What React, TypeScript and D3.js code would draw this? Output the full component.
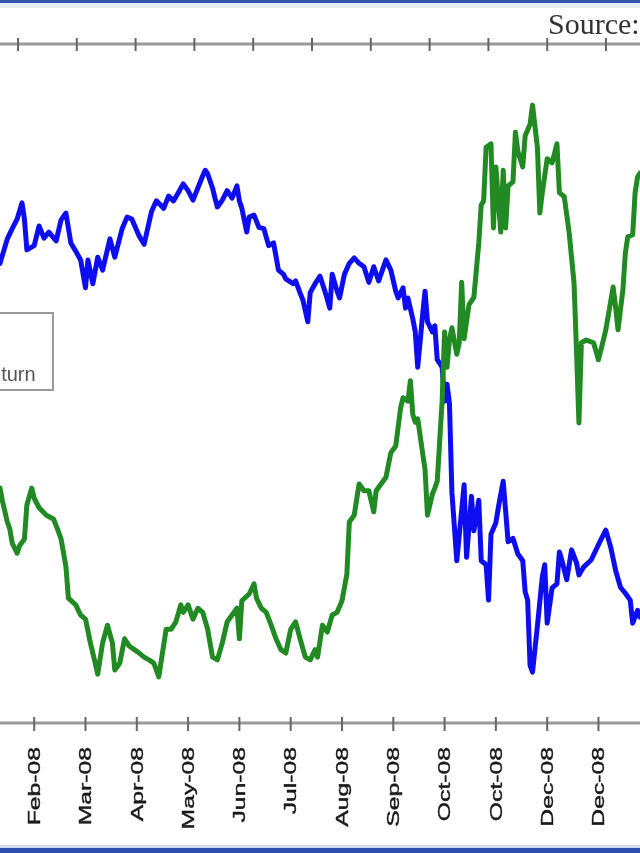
import { useEffect, useRef } from 'react'
import * as d3 from 'd3'

const width = 640
const height = 853

// [trading day, level]; y has no printed scale, 0-100 of the plot height
const indexSeries: [number, number][] = [
  [0, 67.7], [3, 71.3], [5, 72.8], [7, 74.2], [9, 76.6], [10, 74.2], [11, 69.7], [14, 70.3],
  [16, 73.2], [18, 71.4], [20, 72.3], [23, 71.0], [25, 74.1], [27, 75.1], [29, 70.7], [31, 69.5],
  [33, 68.2], [35, 64.1], [36, 68.2], [38, 64.7], [40, 68.6], [42, 66.7], [45, 71.3], [47, 68.6],
  [50, 72.8], [52, 74.5], [54, 74.2], [57, 71.7], [59, 70.5], [62, 75.3], [64, 76.9], [67, 75.8],
  [69, 77.6], [71, 76.9], [73, 78.1], [75, 79.4], [77, 78.4], [79, 77.0], [81, 78.8], [83, 80.6],
  [84, 81.4], [85, 80.9], [87, 78.8], [88, 77.3], [89, 76.0], [91, 77.0], [93, 78.4], [95, 77.3],
  [97, 79.1], [98, 76.9], [99, 75.8], [101, 72.3], [102, 74.5], [104, 74.8], [106, 73.0], [108, 72.8],
  [110, 70.3], [112, 70.7], [114, 66.7], [116, 66.1], [117, 65.4], [120, 64.7], [121, 65.1], [123, 63.2],
  [124, 62.3], [126, 59.1], [127, 63.4], [129, 64.7], [131, 65.8], [133, 63.6], [135, 61.1], [136, 66.1],
  [138, 63.6], [139, 62.6], [141, 66.1], [143, 67.7], [145, 68.5], [147, 67.7], [149, 67.2], [151, 64.9],
  [153, 67.2], [155, 65.1], [158, 68.2], [160, 66.7], [162, 63.6], [163, 62.6], [165, 64.1], [166, 61.1],
  [167, 62.6], [169, 59.5], [170, 57.6], [171, 52.4], [173, 60.1], [174, 63.6], [175, 59.1], [177, 57.6],
  [178, 58.5], [179, 53.5], [181, 52.4], [182, 47.4], [183, 49.9], [184, 47.0], [185, 34.0], [187, 23.9],
  [190, 35.1], [191, 24.4], [193, 33.4], [194, 28.3], [196, 32.8], [197, 23.9], [199, 23.3], [200, 18.1],
  [201, 27.8], [203, 29.5], [204, 31.7], [206, 35.6], [207, 31.2], [208, 26.7], [210, 27.2], [212, 24.9],
  [214, 23.9], [215, 19.3], [216, 18.1], [217, 8.5], [218, 7.5], [220, 14.3], [222, 21.5], [223, 23.3],
  [224, 14.7], [226, 19.9], [228, 20.5], [229, 25.2], [230, 24.0], [232, 21.1], [234, 25.5], [236, 23.6],
  [237, 21.8], [239, 23.0], [242, 24.0], [246, 27.0], [248, 28.4], [250, 25.9], [252, 22.5], [254, 20.0],
  [256, 19.1], [258, 18.1], [259, 14.7], [261, 16.6], [262, 15.6],
]

const returnSeries: [number, number][] = [
  [0, 34.6], [1, 32.7], [3, 29.6], [4, 28.6], [5, 26.5], [7, 25.0], [8, 26.1], [10, 27.1],
  [11, 32.1], [13, 34.6], [14, 33.1], [16, 31.7], [19, 30.6], [22, 30.0], [24, 28.1], [25, 27.1],
  [27, 23.0], [28, 18.4], [31, 17.4], [33, 15.9], [35, 15.3], [37, 11.8], [39, 8.8], [40, 7.2],
  [42, 11.8], [44, 14.4], [46, 11.8], [47, 7.8], [49, 8.8], [51, 12.4], [53, 11.3], [55, 10.8],
  [57, 10.3], [59, 9.7], [61, 9.3], [63, 8.8], [65, 6.8], [68, 13.8], [70, 13.8], [72, 14.9],
  [74, 17.4], [75, 16.3], [77, 17.4], [79, 15.3], [81, 16.9], [83, 16.3], [85, 13.8], [87, 9.7],
  [89, 9.3], [91, 11.8], [93, 14.9], [95, 15.9], [97, 16.9], [98, 12.4], [99, 18.0], [102, 19.0],
  [104, 20.5], [105, 18.4], [107, 16.9], [109, 16.3], [111, 14.4], [113, 12.4], [115, 10.8], [117, 10.3],
  [119, 13.8], [121, 14.9], [123, 12.2], [125, 9.7], [127, 9.3], [129, 10.8], [130, 9.7], [132, 14.4],
  [134, 13.4], [136, 15.9], [138, 16.3], [140, 18.0], [142, 21.9], [143, 29.6], [145, 30.6], [147, 35.2],
  [149, 34.2], [151, 34.2], [153, 31.1], [154, 34.2], [156, 35.2], [158, 36.2], [160, 39.8], [162, 40.8],
  [164, 46.4], [165, 47.9], [167, 47.4], [168, 50.4], [169, 45.4], [170, 44.3], [171, 44.8], [173, 39.8],
  [174, 37.3], [175, 30.6], [177, 33.7], [178, 34.6], [179, 35.6], [181, 47.4], [182, 57.6], [183, 52.4],
  [184, 56.4], [185, 58.2], [187, 54.3], [188, 56.0], [189, 64.9], [190, 56.6], [192, 61.6], [194, 62.7],
  [196, 70.7], [197, 76.3], [198, 76.9], [199, 84.8], [201, 85.3], [202, 72.9], [203, 81.9], [205, 72.3],
  [206, 81.4], [207, 72.9], [208, 79.1], [210, 79.7], [211, 87.0], [212, 84.2], [214, 81.9], [215, 86.5],
  [217, 88.2], [218, 91.0], [220, 84.8], [221, 75.1], [222, 78.1], [224, 83.1], [226, 82.5], [228, 85.3],
  [229, 78.1], [231, 77.5], [233, 72.2], [235, 64.8], [236, 54.9], [237, 44.2], [238, 56.0], [240, 56.4],
  [243, 56.0], [245, 53.5], [247, 56.4], [248, 57.9], [251, 64.2], [252, 61.3], [253, 57.9], [255, 63.8],
  [256, 69.2], [257, 71.6], [259, 71.9], [260, 78.1], [261, 80.4], [262, 81.0],
]

const monthTickDays = [14, 35, 56, 77, 98, 119, 140, 161, 182, 203, 224, 245]
const monthTickLabels = [
  'Feb-08', 'Mar-08', 'Apr-08', 'May-08', 'Jun-08', 'Jul-08',
  'Aug-08', 'Sep-08', 'Oct-08', 'Oct-08', 'Dec-08', 'Dec-08',
]
const topTickSteps = [0, 1, 2, 3, 4, 5, 6, 7, 8, 9, 10]
const legendLabels = ['Index', 'Cumulative Return']
const seriesColors = ['#1010f0', '#218a21']

const plotTop = 44
const plotBottom = 723

function App() {
  const ref = useRef<SVGSVGElement>(null)

  useEffect(() => {
    document.body.style.margin = '0'
    drawChart()
  }, [])

  const drawChart = () => {
    const svg = d3.select(ref.current)
    svg.selectAll('*').remove()

    const xScale = d3.scaleLinear().domain([0, 262]).range([0, width])
    const yScale = d3.scaleLinear().domain([0, 100]).range([plotBottom, plotTop])
    const topScale = d3.scaleLinear().domain([0, 10]).range([18, 606])

    // the source is a soft, upscaled scan
    svg
      .append('defs')
      .append('filter')
      .attr('id', 'soft')
      .append('feGaussianBlur')
      .attr('stdDeviation', 0.6)

    const root = svg.append('g').attr('filter', 'url(#soft)')

    root.append('rect').attr('width', width).attr('height', height).attr('fill', '#fff')

    // frame bars top and bottom
    root.append('rect').attr('y', 3).attr('width', width).attr('height', 5).attr('fill', '#e6ecf7')
    root.append('rect').attr('width', width).attr('height', 3).attr('fill', '#3553a6')
    root.append('rect').attr('y', 845).attr('width', width).attr('height', 3).attr('fill', '#d3dcf0')
    root.append('rect').attr('y', 848).attr('width', width).attr('height', 5).attr('fill', '#2d4fae')

    root
      .append('text')
      .attr('x', 548)
      .attr('y', 34)
      .attr('font-family', '"Liberation Serif", "Times New Roman", serif')
      .attr('font-size', 30)
      .attr('fill', '#333')
      .text('Source:')

    // top axis
    const top = root.append('g')
    top
      .append('line')
      .attr('x1', 0)
      .attr('x2', width)
      .attr('y1', plotTop)
      .attr('y2', plotTop)
      .attr('stroke', '#9a9a9a')
      .attr('stroke-width', 3)
    top
      .selectAll('line.tick')
      .data(topTickSteps)
      .join('line')
      .attr('class', 'tick')
      .attr('x1', (d) => topScale(d))
      .attr('x2', (d) => topScale(d))
      .attr('y1', plotTop - 6)
      .attr('y2', plotTop + 7)
      .attr('stroke', '#666')
      .attr('stroke-width', 2)

    // bottom axis
    const bottom = root.append('g')
    bottom
      .append('line')
      .attr('x1', 0)
      .attr('x2', width)
      .attr('y1', plotBottom)
      .attr('y2', plotBottom)
      .attr('stroke', '#9a9a9a')
      .attr('stroke-width', 3)
    bottom
      .selectAll('line.tick')
      .data(monthTickDays)
      .join('line')
      .attr('class', 'tick')
      .attr('x1', (d) => xScale(d))
      .attr('x2', (d) => xScale(d))
      .attr('y1', plotBottom - 6)
      .attr('y2', plotBottom + 8)
      .attr('stroke', '#666')
      .attr('stroke-width', 2)
    bottom
      .selectAll('text')
      .data(monthTickDays)
      .join('text')
      .attr('transform', (d) => `translate(${xScale(d)},747) rotate(-90) scale(1.5,1)`)
      .attr('text-anchor', 'end')
      .attr('dy', '0.35em')
      .attr('font-family', '"Liberation Sans", Arial, sans-serif')
      .attr('font-size', 16.5)
      .attr('fill', '#1a1a1a')
      .attr('stroke', '#1a1a1a')
      .attr('stroke-width', 0.4)
      .text((_, i) => monthTickLabels[i])

    // legend (mostly cut off on the left)
    const legend = root.append('g')
    legend
      .append('rect')
      .attr('x', -200)
      .attr('y', 313)
      .attr('width', 253)
      .attr('height', 77)
      .attr('fill', '#fff')
      .attr('stroke', '#9a9a9a')
      .attr('stroke-width', 2)
    legendLabels.forEach((label, i) => {
      legend
        .append('line')
        .attr('x1', -190)
        .attr('x2', -140)
        .attr('y1', 342 + i * 32)
        .attr('y2', 342 + i * 32)
        .attr('stroke', seriesColors[i])
        .attr('stroke-width', 4)
      legend
        .append('text')
        .attr('x', -130)
        .attr('y', 349 + i * 32)
        .attr('font-family', '"Liberation Sans", Arial, sans-serif')
        .attr('font-size', 20)
        .attr('fill', '#555')
        .text(label)
    })

    const line = d3
      .line<[number, number]>()
      .x((d) => xScale(d[0]))
      .y((d) => yScale(d[1]))

    ;[indexSeries, returnSeries].forEach((series, i) => {
      root
        .append('path')
        .datum(series)
        .attr('fill', 'none')
        .attr('stroke', seriesColors[i])
        .attr('stroke-width', 5)
        .attr('stroke-linejoin', 'round')
        .attr('stroke-linecap', 'round')
        .attr('d', line)
    })
  }

  return (
    <svg
      ref={ref}
      width={width}
      height={height}
      style={{ display: 'block' }}
    />
  )
}

export default App
